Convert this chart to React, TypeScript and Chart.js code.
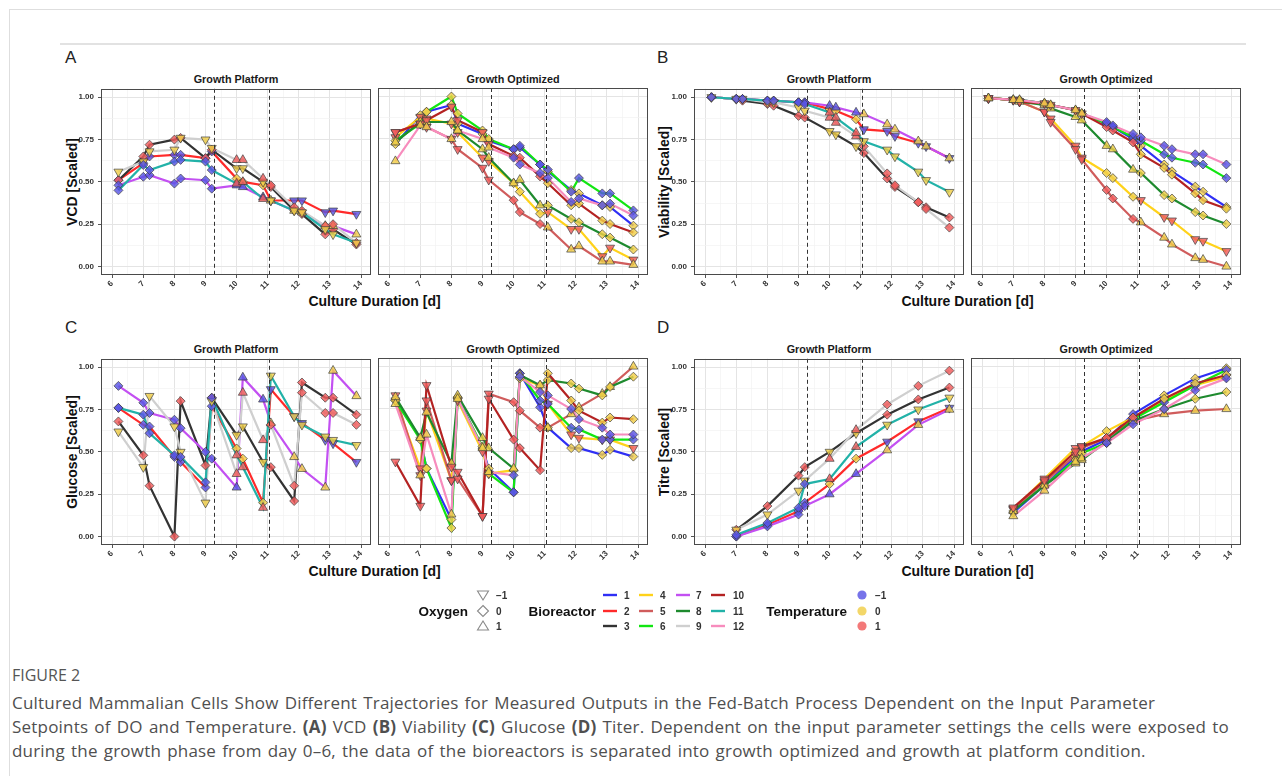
import React, { useEffect, useRef } from "react";
import { Chart, registerables } from "chart.js";

Chart.register(...registerables);

const FONT = '"Liberation Sans", Arial, sans-serif';
Chart.defaults.font.family = FONT;

// ---------- data ----------
const TIMES = [6.2, 7.0, 7.2, 8.0, 8.2, 9.0, 9.2, 10.0, 10.2, 10.85, 11.1, 11.85, 12.1, 12.85, 13.1, 13.85];
const TIMES_TITRE = [7.0, 8.0, 9.0, 9.2, 10.0, 10.85, 11.85, 12.85, 13.85];
const PHASE_BREAKS = [9.28, 11.05];
const X_TICK_LABELS = [6, 7, 8, 9, 10, 11, 12, 13, 14];
const Y_TICK_LABELS = [0, 0.25, 0.5, 0.75, 1];

const PLATFORM_REACTORS = [2, 3, 7, 9, 11];
const OPTIMIZED_REACTORS = [1, 4, 5, 6, 8, 10, 12];

const REACTOR_COLORS: Record<number, string> = {
  1: "#2f2ff5", 2: "#ff2a2a", 3: "#333333", 4: "#ffd21a", 5: "#d05c5c", 6: "#12e612",
  7: "#c350f2", 8: "#1e8a2e", 9: "#cfcfcf", 10: "#b42222", 11: "#22b2a8", 12: "#f78cbd",
};

// setpoints per phase [day 6-9.3, 9.3-11.1, 11.1-14]
const OXYGEN_PHASES: Record<number, number[]> = {
  1: [0, 0, 0], 2: [0, 0, -1], 3: [0, -1, 0], 4: [-1, 0, -1], 5: [-1, 0, 1], 6: [0, 0, 0],
  7: [0, 1, 1], 8: [1, 1, 0], 9: [-1, 1, 0], 10: [-1, 0, 0], 11: [0, 1, -1], 12: [1, 0, 0],
};
const TEMPERATURE_PHASES: Record<number, number[]> = {
  1: [0, -1, 0], 2: [-1, 0, -1], 3: [1, 0, 1], 4: [1, 0, 1], 5: [1, 1, 0], 6: [0, -1, -1],
  7: [-1, -1, 0], 8: [0, 0, 0], 9: [0, 1, 1], 10: [1, 1, 0], 11: [-1, 1, 0], 12: [0, -1, -1],
};

const VCD: Record<number, number[]> = {
  2: [0.51, 0.61, 0.65, 0.66, 0.66, 0.64, 0.68, 0.52, 0.50, 0.48, 0.39, 0.39, 0.39, 0.32, 0.33, 0.31],
  3: [0.51, 0.65, 0.72, 0.75, 0.76, 0.64, 0.69, 0.58, 0.58, 0.50, 0.47, 0.33, 0.31, 0.19, 0.22, 0.13],
  7: [0.48, 0.53, 0.54, 0.49, 0.52, 0.51, 0.46, 0.48, 0.47, 0.41, 0.39, 0.33, 0.32, 0.24, 0.24, 0.19],
  9: [0.56, 0.62, 0.68, 0.69, 0.76, 0.75, 0.70, 0.63, 0.63, 0.52, 0.48, 0.35, 0.33, 0.24, 0.25, 0.14],
  11: [0.45, 0.60, 0.57, 0.62, 0.63, 0.62, 0.57, 0.49, 0.50, 0.40, 0.39, 0.33, 0.32, 0.22, 0.19, 0.14],
  1: [0.72, 0.89, 0.91, 0.95, 0.84, 0.78, 0.74, 0.69, 0.70, 0.60, 0.56, 0.45, 0.43, 0.36, 0.35, 0.24],
  4: [0.76, 0.88, 0.87, 0.84, 0.79, 0.64, 0.62, 0.49, 0.44, 0.31, 0.32, 0.22, 0.22, 0.06, 0.11, 0.04],
  5: [0.79, 0.84, 0.82, 0.75, 0.69, 0.58, 0.51, 0.39, 0.32, 0.25, 0.23, 0.10, 0.12, 0.03, 0.03, 0.01],
  6: [0.74, 0.84, 0.91, 1.00, 0.90, 0.80, 0.75, 0.69, 0.71, 0.60, 0.57, 0.44, 0.52, 0.43, 0.43, 0.33],
  8: [0.73, 0.85, 0.85, 0.85, 0.80, 0.69, 0.64, 0.49, 0.51, 0.36, 0.36, 0.28, 0.26, 0.19, 0.17, 0.10],
  10: [0.79, 0.84, 0.86, 0.94, 0.86, 0.79, 0.72, 0.65, 0.64, 0.53, 0.49, 0.36, 0.37, 0.27, 0.25, 0.20],
  12: [0.62, 0.83, 0.82, 0.75, 0.80, 0.75, 0.70, 0.64, 0.60, 0.55, 0.52, 0.38, 0.40, 0.36, 0.37, 0.30],
};

const VIABILITY: Record<number, number[]> = {
  2: [1.00, 0.99, 0.99, 0.98, 0.98, 0.97, 0.97, 0.93, 0.92, 0.87, 0.81, 0.80, 0.77, 0.73, 0.71, 0.64],
  3: [1.00, 0.99, 0.98, 0.96, 0.95, 0.89, 0.88, 0.80, 0.78, 0.71, 0.67, 0.52, 0.47, 0.38, 0.35, 0.29],
  7: [1.00, 0.99, 0.99, 0.98, 0.98, 0.97, 0.97, 0.95, 0.94, 0.91, 0.90, 0.84, 0.81, 0.74, 0.71, 0.64],
  9: [1.00, 0.99, 0.99, 0.97, 0.97, 0.94, 0.92, 0.88, 0.85, 0.77, 0.71, 0.55, 0.48, 0.38, 0.34, 0.23],
  11: [1.00, 0.99, 0.99, 0.98, 0.98, 0.97, 0.96, 0.91, 0.88, 0.79, 0.74, 0.69, 0.65, 0.56, 0.51, 0.44],
  1: [0.99, 0.98, 0.98, 0.96, 0.95, 0.92, 0.90, 0.84, 0.82, 0.75, 0.71, 0.60, 0.56, 0.47, 0.44, 0.35],
  4: [0.99, 0.98, 0.97, 0.91, 0.87, 0.71, 0.64, 0.55, 0.52, 0.41, 0.39, 0.29, 0.27, 0.16, 0.15, 0.09],
  5: [0.99, 0.98, 0.97, 0.91, 0.85, 0.69, 0.63, 0.45, 0.40, 0.28, 0.26, 0.17, 0.13, 0.05, 0.04, 0.00],
  6: [0.99, 0.98, 0.98, 0.96, 0.95, 0.92, 0.90, 0.84, 0.82, 0.76, 0.74, 0.66, 0.64, 0.61, 0.60, 0.52],
  8: [0.99, 0.98, 0.97, 0.95, 0.93, 0.88, 0.86, 0.71, 0.69, 0.57, 0.55, 0.42, 0.40, 0.32, 0.30, 0.25],
  10: [0.99, 0.98, 0.97, 0.96, 0.95, 0.92, 0.90, 0.82, 0.80, 0.73, 0.66, 0.58, 0.54, 0.43, 0.39, 0.34],
  12: [0.99, 0.98, 0.98, 0.96, 0.95, 0.92, 0.90, 0.85, 0.83, 0.78, 0.76, 0.71, 0.69, 0.66, 0.66, 0.60],
};

const GLUCOSE: Record<number, number[]> = {
  2: [0.76, 0.66, 0.65, 0.47, 0.44, 0.29, 0.77, 0.52, 0.46, 0.20, 0.87, 0.71, 0.67, 0.57, 0.55, 0.44],
  3: [0.68, 0.48, 0.30, 0.00, 0.80, 0.42, 0.82, 0.60, 0.65, 0.44, 0.41, 0.21, 0.91, 0.82, 0.82, 0.72],
  7: [0.89, 0.79, 0.73, 0.69, 0.64, 0.50, 0.46, 0.29, 0.94, 0.81, 0.67, 0.47, 0.40, 0.29, 0.98, 0.83],
  9: [0.62, 0.41, 0.83, 0.65, 0.50, 0.20, 0.80, 0.37, 0.85, 0.57, 0.66, 0.30, 0.85, 0.73, 0.73, 0.66],
  11: [0.76, 0.72, 0.61, 0.48, 0.47, 0.32, 0.82, 0.48, 0.41, 0.17, 0.95, 0.71, 0.66, 0.59, 0.57, 0.54],
  1: [0.80, 0.58, 0.40, 0.10, 0.82, 0.52, 0.40, 0.26, 0.96, 0.76, 0.64, 0.52, 0.52, 0.48, 0.51, 0.47],
  4: [0.80, 0.40, 0.74, 0.33, 0.80, 0.50, 0.37, 0.39, 0.93, 0.89, 0.78, 0.60, 0.58, 0.57, 0.57, 0.52],
  5: [0.83, 0.36, 0.80, 0.33, 0.34, 0.12, 0.84, 0.79, 0.74, 0.64, 0.64, 0.72, 0.76, 0.84, 0.88, 1.00],
  6: [0.80, 0.57, 0.40, 0.05, 0.81, 0.53, 0.37, 0.26, 0.96, 0.80, 0.78, 0.64, 0.63, 0.57, 0.57, 0.57],
  8: [0.82, 0.58, 0.73, 0.43, 0.83, 0.58, 0.52, 0.40, 0.95, 0.89, 0.92, 0.90, 0.87, 0.83, 0.88, 0.94],
  10: [0.44, 0.18, 0.89, 0.41, 0.38, 0.12, 0.81, 0.57, 0.52, 0.39, 0.96, 0.80, 0.74, 0.67, 0.70, 0.69],
  12: [0.78, 0.36, 0.60, 0.13, 0.81, 0.52, 0.38, 0.36, 0.94, 0.85, 0.83, 0.75, 0.69, 0.64, 0.60, 0.60],
};

const TITRE: Record<number, number[]> = {
  2: [0.00, 0.07, 0.15, 0.20, 0.31, 0.46, 0.56, 0.68, 0.76],
  3: [0.04, 0.18, 0.36, 0.41, 0.50, 0.61, 0.72, 0.81, 0.88],
  7: [0.00, 0.06, 0.13, 0.18, 0.25, 0.37, 0.51, 0.66, 0.75],
  9: [0.04, 0.13, 0.27, 0.33, 0.46, 0.63, 0.78, 0.89, 0.98],
  11: [0.01, 0.08, 0.17, 0.31, 0.34, 0.53, 0.66, 0.75, 0.82],
  1: [0.14, 0.30, 0.47, 0.50, 0.57, 0.72, 0.83, 0.93, 0.99],
  4: [0.16, 0.34, 0.52, 0.53, 0.62, 0.70, 0.80, 0.89, 0.94],
  5: [0.16, 0.32, 0.48, 0.52, 0.58, 0.68, 0.72, 0.74, 0.75],
  6: [0.15, 0.30, 0.45, 0.49, 0.55, 0.69, 0.79, 0.89, 0.98],
  8: [0.15, 0.30, 0.43, 0.45, 0.56, 0.68, 0.75, 0.81, 0.85],
  10: [0.17, 0.33, 0.50, 0.53, 0.58, 0.70, 0.81, 0.90, 0.95],
  12: [0.12, 0.27, 0.44, 0.46, 0.55, 0.66, 0.75, 0.86, 0.93],
};

const TEMP_FILL = ["rgba(88,84,228,0.82)", "rgba(240,206,72,0.82)", "rgba(240,92,92,0.82)"];
const TEMP_LEGEND = [["-1", 0], ["0", 1], ["1", 2]];

// ---------- layout ----------
const X_MIN = 5.64;
const X_MAX = 14.32;
const Y_MIN = -0.05;
const Y_MAX = 1.05;
const BOX_W = 270;
const BOX_H = 187;
const PAD_T = 8;
const PAD_R = 6;
const X_AXIS_H = 30;
const Y_AXIS_W = 29;

type Panel = "A" | "B" | "C" | "D";
type FacetSpec = { panel: Panel; group: "platform" | "optimized"; left: number; top: number; showY: boolean };

const FACETS: FacetSpec[] = [
  { panel: "A", group: "platform", left: 101, top: 88, showY: true },
  { panel: "A", group: "optimized", left: 378, top: 88, showY: false },
  { panel: "B", group: "platform", left: 694, top: 88, showY: true },
  { panel: "B", group: "optimized", left: 971, top: 88, showY: false },
  { panel: "C", group: "platform", left: 101, top: 358, showY: true },
  { panel: "C", group: "optimized", left: 378, top: 358, showY: false },
  { panel: "D", group: "platform", left: 694, top: 358, showY: true },
  { panel: "D", group: "optimized", left: 971, top: 358, showY: false },
];

const PANEL_INFO: Record<Panel, { title: string; labelX: number; labelY: number; yTitleX: number }> = {
  A: { title: "VCD [Scaled]", labelX: 65, labelY: 58, yTitleX: 72 },
  B: { title: "Viability [Scaled]", labelX: 657, labelY: 58, yTitleX: 664 },
  C: { title: "Glucose [Scaled]", labelX: 65, labelY: 328, yTitleX: 72 },
  D: { title: "Titre [Scaled]", labelX: 657, labelY: 328, yTitleX: 664 },
};

const phaseOf = (t: number) => (t < PHASE_BREAKS[0] ? 0 : t < PHASE_BREAKS[1] ? 1 : 2);

const X_GRID: number[] = [];
for (let v = 6; v <= 14.001; v += 0.5) X_GRID.push(Math.round(v * 10) / 10);
const Y_GRID: number[] = [];
for (let v = 0; v <= 1.0001; v += 0.125) Y_GRID.push(Math.round(v * 1000) / 1000);

const isMajorX = (v: number) => X_TICK_LABELS.includes(v);
const isMajorY = (v: number) => Y_TICK_LABELS.some((t) => Math.abs(t - v) < 1e-9);

const decorPlugin = {
  id: "facetDecor",
  afterDatasetsDraw(chart: any) {
    const { ctx, chartArea, scales } = chart;
    ctx.save();
    ctx.strokeStyle = "#333333";
    ctx.lineWidth = 1;
    ctx.setLineDash([4, 3]);
    PHASE_BREAKS.forEach((b) => {
      const x = Math.round(scales.x.getPixelForValue(b)) + 0.5;
      ctx.beginPath();
      ctx.moveTo(x, chartArea.top);
      ctx.lineTo(x, chartArea.bottom);
      ctx.stroke();
    });
    ctx.restore();
  },
  afterDraw(chart: any) {
    const { ctx, chartArea } = chart;
    ctx.save();
    ctx.strokeStyle = "#4a4a4a";
    ctx.lineWidth = 1;
    ctx.strokeRect(
      Math.round(chartArea.left) + 0.5,
      Math.round(chartArea.top) + 0.5,
      Math.round(chartArea.right - chartArea.left) - 1,
      Math.round(chartArea.bottom - chartArea.top) - 1
    );
    ctx.restore();
  },
};

function buildConfig(spec: FacetSpec, padL: number): any {
  const times = spec.panel === "D" ? TIMES_TITRE : TIMES;
  const source = { A: VCD, B: VIABILITY, C: GLUCOSE, D: TITRE }[spec.panel];
  const reactors = spec.group === "platform" ? PLATFORM_REACTORS : OPTIMIZED_REACTORS;
  const datasets: any[] = [];
  reactors.forEach((r) => {
    const data = times.map((t, i) => ({ x: t, y: source[r][i] }));
    datasets.push({
      type: "line",
      data,
      borderColor: REACTOR_COLORS[r],
      borderWidth: 2.2,
      pointRadius: 0,
      fill: false,
      tension: 0,
      order: 100 - r,
    });
    datasets.push({
      type: "line",
      data,
      showLine: false,
      order: 50 - r,
      pointStyle: (c: any) => (OXYGEN_PHASES[r][phaseOf(c.raw.x)] === 0 ? "rectRot" : "triangle"),
      pointRotation: (c: any) => (OXYGEN_PHASES[r][phaseOf(c.raw.x)] === -1 ? 180 : 0),
      pointRadius: (c: any) => (OXYGEN_PHASES[r][phaseOf(c.raw.x)] === 0 ? 4.5 : 5.2),
      pointBackgroundColor: (c: any) => TEMP_FILL[TEMPERATURE_PHASES[r][phaseOf(c.raw.x)] + 1],
      pointBorderColor: "rgba(60,60,60,0.85)",
      pointBorderWidth: 0.8,
    });
  });

  const tickFont = { family: FONT, size: 8, weight: "bold" as const };
  return {
    type: "line",
    data: { datasets },
    plugins: [decorPlugin],
    options: {
      animation: false,
      responsive: false,
      events: [],
      layout: { padding: { top: PAD_T, right: PAD_R, left: padL, bottom: 0 } },
      plugins: { legend: { display: false }, tooltip: { enabled: false }, title: { display: false } },
      scales: {
        x: {
          type: "linear",
          min: X_MIN,
          max: X_MAX,
          afterBuildTicks: (s: any) => {
            s.ticks = X_GRID.map((v) => ({ value: v }));
          },
          afterFit: (s: any) => {
            s.height = X_AXIS_H;
          },
          border: { display: false },
          grid: {
            color: (c: any) => (isMajorX(c.tick.value) ? "#e4e4e4" : "#f2f2f2"),
            lineWidth: (c: any) => (isMajorX(c.tick.value) ? 1 : 0.7),
            tickLength: 3,
            tickColor: (c: any) => (isMajorX(c.tick.value) ? "#555555" : "rgba(0,0,0,0)"),
          },
          ticks: {
            autoSkip: false,
            minRotation: 45,
            maxRotation: 45,
            padding: 1,
            color: "#333333",
            font: tickFont,
            callback: (v: number) => (isMajorX(v) ? String(v) : ""),
          },
        },
        y: {
          type: "linear",
          min: Y_MIN,
          max: Y_MAX,
          afterBuildTicks: (s: any) => {
            s.ticks = Y_GRID.map((v) => ({ value: v }));
          },
          afterFit: (s: any) => {
            s.width = spec.showY ? Y_AXIS_W : 0;
          },
          border: { display: false },
          grid: {
            color: (c: any) => (isMajorY(c.tick.value) ? "#e4e4e4" : "#f2f2f2"),
            lineWidth: (c: any) => (isMajorY(c.tick.value) ? 1 : 0.7),
            drawTicks: spec.showY,
            tickLength: 3,
            tickColor: (c: any) => (isMajorY(c.tick.value) ? "#555555" : "rgba(0,0,0,0)"),
          },
          ticks: {
            display: spec.showY,
            autoSkip: false,
            padding: 4,
            color: "#333333",
            font: tickFont,
            callback: (v: number) => (isMajorY(v) ? v.toFixed(2) : ""),
          },
        },
      },
    },
  };
}

function Facet({ spec }: { spec: FacetSpec }) {
  const ref = useRef<HTMLCanvasElement>(null);
  const padL = spec.showY ? 2 : 10;
  const yW = spec.showY ? Y_AXIS_W : 0;
  const width = padL + yW + BOX_W + PAD_R;
  const height = PAD_T + BOX_H + X_AXIS_H;
  const left = spec.left - padL - yW;
  const top = spec.top - PAD_T;
  useEffect(() => {
    const chart = new Chart(ref.current as HTMLCanvasElement, buildConfig(spec, padL));
    return () => chart.destroy();
  }, []);
  return (
    <canvas
      ref={ref}
      width={width}
      height={height}
      style={{ position: "absolute", left, top, width, height }}
    />
  );
}

const abs = (s: React.CSSProperties): React.CSSProperties => ({ position: "absolute", whiteSpace: "nowrap", ...s });

function Legend() {
  const lbl = { fontFamily: FONT, fontWeight: 700, fontSize: 10, fill: "#333" } as any;
  const title = { fontFamily: FONT, fontWeight: 700, fontSize: 13.5, fill: "#111" } as any;
  const rows = [13, 29, 44];
  const colLine = [203, 239, 276, 311];
  const colText = [224, 260, 296, 333];
  const shp = 83;
  return (
    <svg style={{ position: "absolute", left: 400, top: 582, overflow: "visible" }} width={500} height={56}>
      <text x={68} y={29} textAnchor="end" dominantBaseline="central" {...title}>Oxygen</text>
      <polygon points={`${shp - 5.5},${rows[0] - 4} ${shp + 5.5},${rows[0] - 4} ${shp},${rows[0] + 5}`} fill="none" stroke="#8a8a8a" strokeWidth={1.1} />
      <polygon points={`${shp},${rows[1] - 5.5} ${shp + 5.5},${rows[1]} ${shp},${rows[1] + 5.5} ${shp - 5.5},${rows[1]}`} fill="none" stroke="#8a8a8a" strokeWidth={1.1} />
      <polygon points={`${shp - 5.5},${rows[2] + 4} ${shp + 5.5},${rows[2] + 4} ${shp},${rows[2] - 5}`} fill="none" stroke="#8a8a8a" strokeWidth={1.1} />
      {["\u22121", "0", "1"].map((t, i) => (
        <text key={t} x={96} y={rows[i]} dominantBaseline="central" {...lbl}>{t}</text>
      ))}
      <text x={196} y={29} textAnchor="end" dominantBaseline="central" {...title}>Bioreactor</text>
      {[0, 1, 2, 3].map((c) =>
        [0, 1, 2].map((r) => {
          const id = c * 3 + r + 1;
          return (
            <g key={id}>
              <line x1={colLine[c]} x2={colLine[c] + 14} y1={rows[r]} y2={rows[r]} stroke={REACTOR_COLORS[id]} strokeWidth={2.4} />
              <text x={colText[c]} y={rows[r]} dominantBaseline="central" {...lbl}>{id}</text>
            </g>
          );
        })
      )}
      <text x={447} y={29} textAnchor="end" dominantBaseline="central" {...title}>Temperature</text>
      {TEMP_LEGEND.map(([t, idx], i) => (
        <g key={String(t)}>
          <circle cx={462} cy={rows[i]} r={4.6} fill={TEMP_FILL[idx as number]} />
          <text x={475} y={rows[i]} dominantBaseline="central" {...lbl}>{t === "-1" ? "\u22121" : t}</text>
        </g>
      ))}
    </svg>
  );
}

export default function App() {
  const capFont: React.CSSProperties = {
    fontFamily: '"Open Sans", "Noto Sans", sans-serif',
    fontSize: 17,
    letterSpacing: 0.2,
    wordSpacing: 1.5,
    color: "#4f4f4f",
    lineHeight: "24px",
  };
  return (
    <div style={{ position: "absolute", left: 0, top: 0, width: 1282, height: 776, background: "#fff", overflow: "hidden" }}>
      <div style={abs({ left: 9, top: 9, width: 1290, height: 800, border: "1px solid #dedede" })} />
      <div style={abs({ left: 60, top: 43, width: 1186, height: 2, background: "#e2e2e2" })} />
      {(Object.keys(PANEL_INFO) as Panel[]).map((p) => {
        const info = PANEL_INFO[p];
        const rowTop = p === "A" || p === "B" ? 88 : 358;
        const firstLeft = p === "A" || p === "C" ? 101 : 694;
        return (
          <React.Fragment key={p}>
            <div style={abs({ left: info.labelX, top: info.labelY - 11, fontFamily: FONT, fontSize: 17, lineHeight: "22px", color: "#222" })}>{p}</div>
            <div
              style={abs({
                left: info.yTitleX,
                top: rowTop + BOX_H / 2,
                transform: "translate(-50%, -50%) rotate(-90deg)",
                fontFamily: FONT,
                fontWeight: 700,
                fontSize: 14,
                color: "#111",
              })}
            >
              {info.title}
            </div>
            <div
              style={abs({
                left: (firstLeft + firstLeft + 277 + BOX_W) / 2,
                top: rowTop + 213,
                transform: "translate(-50%, -50%)",
                fontFamily: FONT,
                fontWeight: 700,
                fontSize: 14,
                color: "#111",
              })}
            >
              Culture Duration [d]
            </div>
            {["Growth Platform", "Growth Optimized"].map((s, i) => (
              <div
                key={s}
                style={abs({
                  left: firstLeft + i * 277 + BOX_W / 2,
                  top: rowTop - 9,
                  transform: "translate(-50%, -50%)",
                  fontFamily: FONT,
                  fontWeight: 700,
                  fontSize: 10.8,
                  color: "#1a1a1a",
                })}
              >
                {s}
              </div>
            ))}
          </React.Fragment>
        );
      })}
      {FACETS.map((f) => (
        <Facet key={f.panel + f.group} spec={f} />
      ))}
      <Legend />
      <div style={abs({ ...capFont, left: 12, top: 663, color: "#555", fontSize: 16, letterSpacing: 0, wordSpacing: 0 })}>FIGURE 2</div>
      <div style={abs({ ...capFont, left: 12, top: 691 })}>
        Cultured Mammalian Cells Show Different Trajectories for Measured Outputs in the Fed-Batch Process Dependent on the Input Parameter
      </div>
      <div style={abs({ ...capFont, left: 12, top: 715 })}>
        Setpoints of DO and Temperature. <b>(A)</b> VCD <b>(B)</b> Viability <b>(C)</b> Glucose <b>(D)</b> Titer. Dependent on the input parameter settings the cells were exposed to
      </div>
      <div style={abs({ ...capFont, left: 12, top: 739 })}>
        during the growth phase from day 0–6, the data of the bioreactors is separated into growth optimized and growth at platform condition.
      </div>
    </div>
  );
}
